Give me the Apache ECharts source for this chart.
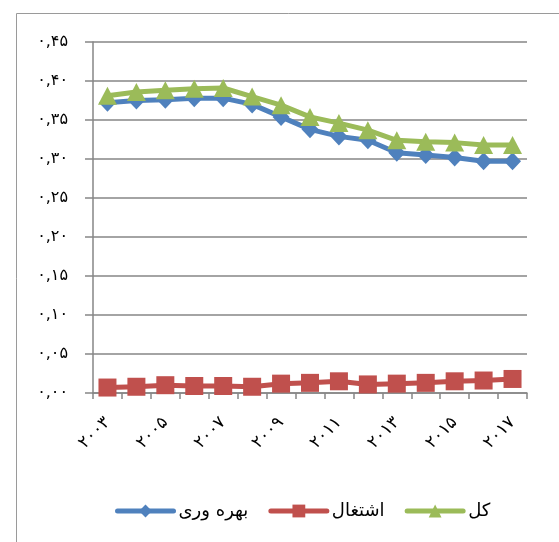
<!DOCTYPE html>
<html>
<head>
<meta charset="utf-8">
<script src="https://cdn.jsdelivr.net/npm/echarts@6/dist/echarts.min.js"></script>
<style>
  html, body { margin: 0; padding: 0; background: #fff; }
  #chart { width: 559px; height: 542px; }
</style>
</head>
<body>
<div id="chart"></div>
<script>
// Years 2003–2017, written with Persian digits
const years = ['۲۰۰۳','۲۰۰۴','۲۰۰۵','۲۰۰۶','۲۰۰۷','۲۰۰۸','۲۰۰۹','۲۰۱۰','۲۰۱۱','۲۰۱۲','۲۰۱۳','۲۰۱۴','۲۰۱۵','۲۰۱۶','۲۰۱۷'];

// Series values
const productivity = [0.372, 0.375, 0.376, 0.378, 0.378, 0.370, 0.354, 0.338, 0.329, 0.324, 0.308, 0.305, 0.302, 0.297, 0.297];
const employment   = [0.007, 0.008, 0.010, 0.009, 0.009, 0.008, 0.012, 0.013, 0.015, 0.011, 0.012, 0.013, 0.015, 0.016, 0.018];
const total        = [0.381, 0.386, 0.388, 0.390, 0.391, 0.380, 0.369, 0.354, 0.346, 0.337, 0.324, 0.322, 0.321, 0.318, 0.318];

// Series names
const names = ['بهره وری', 'اشتغال', 'کل'];

// Y-axis range
const yMin = 0, yMax = 0.45, yStep = 0.05;

const faDigits = '۰۱۲۳۴۵۶۷۸۹';
function toFa(v) {
  return v.toFixed(2).replace(/\d/g, d => faDigits[+d]).replace('.', ',');
}

const FONT = '"DejaVu Sans", "Noto Sans", sans-serif';
const axisGray = '#868686';

const chart = echarts.init(document.getElementById('chart'), null, { renderer: 'canvas' });
chart.setOption({
  animation: false,
  backgroundColor: '#fff',
  graphic: [{
    type: 'rect',
    left: 14, top: 11,
    shape: { width: 600, height: 600 },
    style: { fill: 'none', stroke: '#9a9a9a', lineWidth: 1 },
    silent: true
  }],
  grid: { left: 93, right: 32, top: 42, bottom: 149, containLabel: false },
  legend: {
    left: 110, top: 497,
    itemWidth: 56, itemHeight: 16, itemGap: 20,
    lineStyle: { width: 5, cap: 'round' },
    textStyle: { fontFamily: FONT, fontSize: 18, color: '#000' },
    data: names
  },
  xAxis: {
    type: 'category',
    data: years,
    boundaryGap: true,
    axisLine: { lineStyle: { color: axisGray, width: 1.5 } },
    axisTick: { show: true, alignWithLabel: false, interval: 0, length: 6, lineStyle: { color: axisGray, width: 1.5 } },
    axisLabel: { interval: 1, rotate: 45, margin: 27, fontFamily: FONT, fontSize: 17, color: '#000' }
  },
  yAxis: {
    type: 'value',
    min: yMin, max: yMax, interval: yStep,
    axisLine: { show: true, lineStyle: { color: axisGray, width: 1.5 } },
    axisTick: { show: true, length: 8, lineStyle: { color: axisGray, width: 1.5 } },
    splitLine: { lineStyle: { color: axisGray, width: 1.5 } },
    axisLabel: { margin: 25, fontFamily: FONT, fontSize: 16, color: '#000', formatter: v => toFa(v) }
  },
  series: [
    {
      name: names[0], type: 'line', data: productivity,
      symbol: 'diamond', symbolSize: [17, 18],
      lineStyle: { color: '#4F81BD', width: 5, cap: 'round', join: 'round' },
      itemStyle: { color: '#4F81BD' }
    },
    {
      name: names[1], type: 'line', data: employment,
      symbol: 'rect', symbolSize: 18,
      lineStyle: { color: '#C0504D', width: 5, cap: 'round', join: 'round' },
      itemStyle: { color: '#C0504D' }
    },
    {
      name: names[2], type: 'line', data: total,
      symbol: 'triangle', symbolSize: [19, 18],
      lineStyle: { color: '#9BBB59', width: 5, cap: 'round', join: 'round' },
      itemStyle: { color: '#9BBB59' }
    }
  ]
});
</script>
</body>
</html>
